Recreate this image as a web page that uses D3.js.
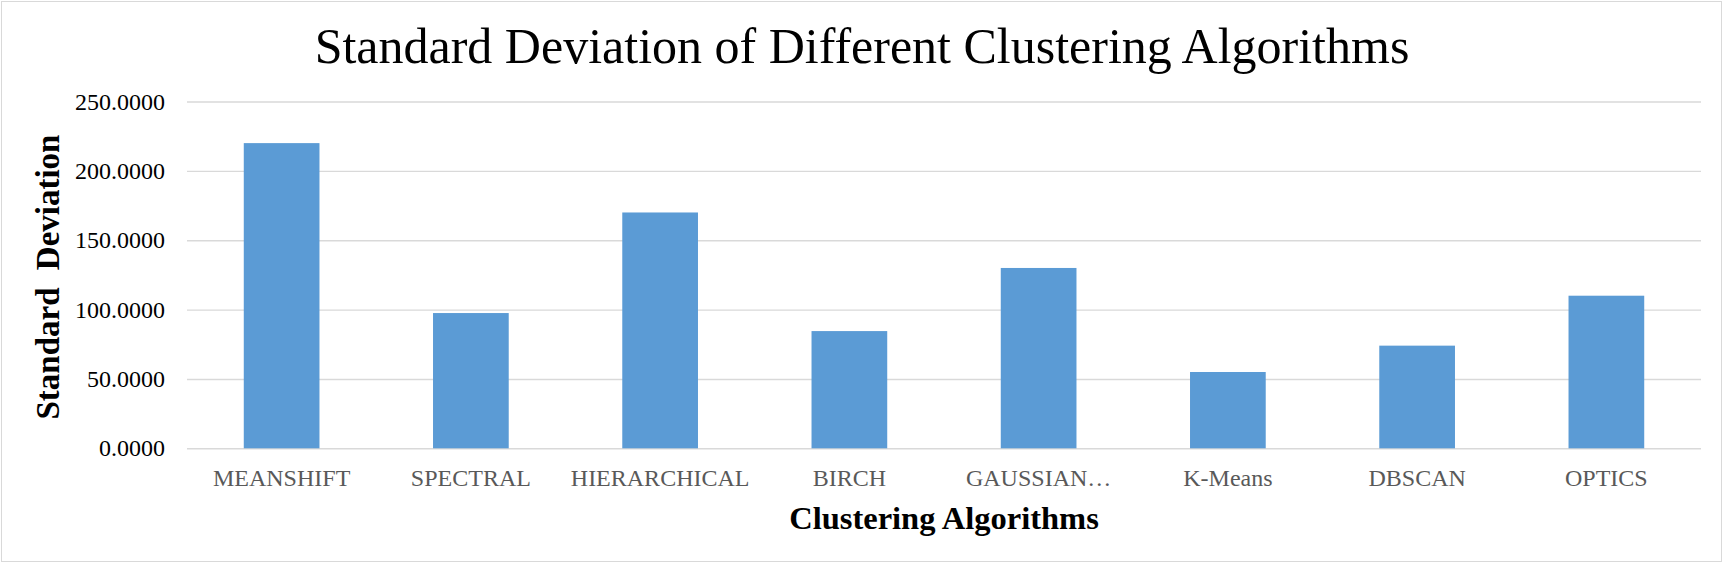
<!DOCTYPE html>
<html>
<head>
<meta charset="utf-8">
<script src="https://cdn.jsdelivr.net/npm/d3@7/dist/d3.min.js"></script>
<style>
  html, body { margin: 0; padding: 0; background: #ffffff; }
  svg { display: block; }
</style>
</head>
<body>
<svg id="chart" width="1724" height="564"></svg>
<script>
// ---- data ----
const categories = ["MEANSHIFT", "SPECTRAL", "HIERARCHICAL", "BIRCH", "GAUSSIAN…", "K-Means", "DBSCAN", "OPTICS"];
const stdValues = [220, 97.5, 170, 84.5, 130, 55, 74, 110];
const yTicks = [0, 50, 100, 150, 200, 250];
const chartTitle = "Standard Deviation of Different Clustering Algorithms";
const xTitle = "Clustering Algorithms";
const yTitle = "Standard Deviation";

// ---- layout ----
const W = 1724, H = 564;
const plot = { left: 187, right: 1701, top: 101.5, bottom: 448.3 };
const svg = d3.select("#chart");
const serif = "'Liberation Serif', 'Times New Roman', Times, serif";

svg.append("rect")
  .attr("x", 0).attr("y", 0).attr("width", W).attr("height", H)
  .attr("fill", "#ffffff");
svg.append("rect")
  .attr("x", 1.5).attr("y", 1.5).attr("width", W - 4).attr("height", H - 4)
  .attr("fill", "none").attr("stroke", "#d9d9d9").attr("stroke-width", 1);

const x = d3.scaleBand()
  .domain(categories)
  .range([plot.left, plot.right])
  .paddingInner(0.6)
  .paddingOuter(0.3);

const y = d3.scaleLinear()
  .domain([0, 250])
  .range([plot.bottom, plot.top]);

// gridlines + y labels via axis
const yAxis = d3.axisLeft(y)
  .tickValues(yTicks)
  .tickSize(-(plot.right - plot.left))
  .tickPadding(22)
  .tickFormat(d3.format(".4f"));

const gy = svg.append("g")
  .attr("transform", `translate(${plot.left},0)`)
  .call(yAxis);
gy.select(".domain").remove();
gy.selectAll(".tick line")
  .attr("stroke", "#d9d9d9").attr("stroke-width", 1.4);
gy.selectAll(".tick text")
  .attr("font-family", serif).attr("font-size", 24)
  .attr("fill", "#000000");

// bars
svg.append("g").selectAll("rect")
  .data(categories.map((c, i) => ({ c, v: stdValues[i] })))
  .join("rect")
  .attr("x", d => x(d.c))
  .attr("width", x.bandwidth())
  .attr("y", d => y(d.v))
  .attr("height", d => y(0) - y(d.v))
  .attr("fill", "#5b9bd5");

// x axis labels
const xAxis = d3.axisBottom(x).tickSize(0).tickPadding(21);
const gx = svg.append("g")
  .attr("transform", `translate(0,${plot.bottom})`)
  .call(xAxis);
gx.select(".domain").remove();
gx.selectAll(".tick text")
  .attr("font-family", serif).attr("font-size", 24)
  .attr("fill", "#595959");

// titles
svg.append("text")
  .attr("x", W / 2).attr("y", 63)
  .attr("text-anchor", "middle")
  .attr("font-family", serif).attr("font-size", 50)
  .attr("fill", "#000000")
  .text(chartTitle);

svg.append("text")
  .attr("x", (plot.left + plot.right) / 2).attr("y", 529)
  .attr("text-anchor", "middle")
  .attr("font-family", serif).attr("font-size", 32.5).attr("font-weight", "bold")
  .attr("fill", "#000000")
  .text(xTitle);

svg.append("text")
  .attr("transform", `translate(59,277) rotate(-90)`)
  .attr("text-anchor", "middle")
  .attr("font-family", serif).attr("font-size", 33).attr("font-weight", "bold")
  .attr("word-spacing", 9)
  .attr("fill", "#000000")
  .text(yTitle);
</script>
</body>
</html>
